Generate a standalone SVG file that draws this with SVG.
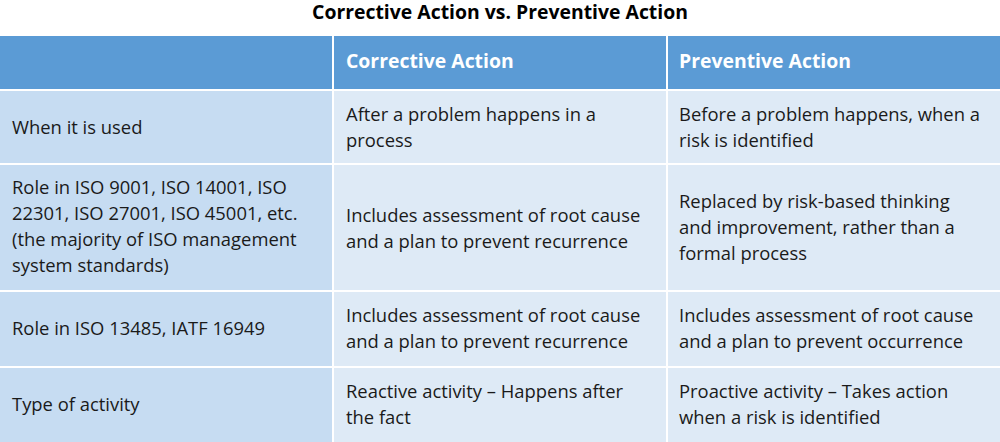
<svg xmlns="http://www.w3.org/2000/svg" width="1000" height="442" viewBox="0 0 1000 442">
<style>
text{font-family:"Open Sans","Liberation Sans",sans-serif;font-size:18.4px;fill:#1a1a1a}
.h{fill:#5b9bd5}.c1{fill:#c6dcf2}.c{fill:#deeaf6}
.ht{fill:#fff;font-weight:bold;font-size:19.4px}
.t{font-weight:bold;font-size:19.4px;fill:#000}
</style>
<rect width="1000" height="442" fill="#fff"/>
<text class="t" x="500" y="19" text-anchor="middle">Corrective Action vs. Preventive Action</text>
<g id="header">
<rect class="h" x="0" y="36" width="332" height="53"/>
<rect class="h" x="334" y="36" width="332" height="53"/>
<rect class="h" x="668" y="36" width="332" height="53"/>
<text class="ht" x="346" y="68">Corrective Action</text>
<text class="ht" x="679" y="68">Preventive Action</text>
</g>
<g id="row1">
<rect class="c1" x="0" y="91" width="332" height="72"/>
<rect class="c" x="334" y="91" width="332" height="72"/>
<rect class="c" x="668" y="91" width="332" height="72"/>
<text x="12" y="134">When it is used</text>
<text x="346" y="121">After a problem happens in a</text>
<text x="346" y="147">process</text>
<text x="679" y="121">Before a problem happens, when a</text>
<text x="679" y="147">risk is identified</text>
</g>
<g id="row2">
<rect class="c1" x="0" y="165" width="332" height="125"/>
<rect class="c" x="334" y="165" width="332" height="125"/>
<rect class="c" x="668" y="165" width="332" height="125"/>
<text x="12" y="194">Role in ISO 9001, ISO 14001, ISO</text>
<text x="12" y="220">22301, ISO 27001, ISO 45001, etc.</text>
<text x="12" y="246">(the majority of ISO management</text>
<text x="12" y="272">system standards)</text>
<text x="346" y="222">Includes assessment of root cause</text>
<text x="346" y="248">and a plan to prevent recurrence</text>
<text x="679" y="208">Replaced by risk-based thinking</text>
<text x="679" y="234">and improvement, rather than a</text>
<text x="679" y="260">formal process</text>
</g>
<g id="row3">
<rect class="c1" x="0" y="292" width="332" height="74"/>
<rect class="c" x="334" y="292" width="332" height="74"/>
<rect class="c" x="668" y="292" width="332" height="74"/>
<text x="12" y="335">Role in ISO 13485, IATF 16949</text>
<text x="346" y="322">Includes assessment of root cause</text>
<text x="346" y="348">and a plan to prevent recurrence</text>
<text x="679" y="322">Includes assessment of root cause</text>
<text x="679" y="348">and a plan to prevent occurrence</text>
</g>
<g id="row4">
<rect class="c1" x="0" y="368" width="332" height="74"/>
<rect class="c" x="334" y="368" width="332" height="74"/>
<rect class="c" x="668" y="368" width="332" height="74"/>
<text x="12" y="411">Type of activity</text>
<text x="346" y="398">Reactive activity – Happens after</text>
<text x="346" y="424">the fact</text>
<text x="679" y="398">Proactive activity – Takes action</text>
<text x="679" y="424">when a risk is identified</text>
</g>
<g id="connectors"/>
</svg>
